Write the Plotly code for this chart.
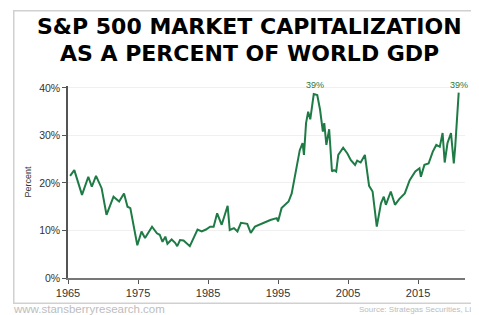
import plotly.graph_objects as go

years = [1965.3, 1965.9, 1967.0, 1967.9, 1968.4, 1969.0, 1969.8, 1970.5, 1971.5, 1972.3,
         1973.0, 1973.5, 1973.9, 1974.9, 1975.5, 1976.0, 1977.0, 1977.7, 1978.1, 1978.5,
         1978.9, 1979.2, 1979.8, 1980.3, 1980.6, 1981.0, 1981.5, 1982.4, 1983.5, 1984.1,
         1984.7, 1985.3, 1985.8, 1986.3, 1986.95, 1987.8, 1988.1, 1988.7, 1989.2, 1989.7,
         1990.6, 1991.1, 1991.7, 1993.9, 1994.8, 1995.0, 1995.5, 1996.0, 1996.5, 1996.95,
         1997.4, 1997.7, 1998.1, 1998.5, 1998.7, 1999.0, 1999.3, 1999.6, 1999.8, 2000.1,
         2000.6, 2001.0, 2001.4, 2001.6, 2001.9, 2002.3, 2002.7, 2003.0, 2003.3, 2003.6,
         2004.3, 2004.9, 2005.4, 2006.0, 2006.3, 2006.8, 2007.4, 2008.0, 2008.5, 2009.1,
         2009.7, 2010.1, 2010.4, 2011.1, 2011.7, 2012.3, 2013.1, 2013.8, 2014.6, 2015.2,
         2015.4, 2015.9, 2016.5, 2017.1, 2017.6, 2018.1, 2018.5, 2018.8, 2019.2, 2019.7,
         2020.1, 2020.3, 2020.8]
values = [21.5, 22.7, 17.5, 21.3, 19.2, 21.5, 18.9, 13.3, 17.1, 16.1,
          17.8, 15.0, 14.7, 6.9, 9.8, 8.4, 10.8, 9.4, 9.1, 7.6,
          8.7, 7.2, 8.1, 7.4, 6.7, 8.0, 7.9, 6.7, 10.2, 9.8,
          10.2, 10.8, 10.8, 13.6, 11.2, 15.2, 10.1, 10.5, 9.8, 11.6,
          11.4, 9.5, 10.8, 12.2, 12.6, 11.9, 14.7, 15.4, 16.1, 17.8,
          21.3, 23.4, 26.9, 28.4, 25.9, 32.6, 35.0, 33.4, 35.4, 38.7,
          38.5, 35.4, 30.8, 32.6, 28.0, 31.3, 22.4, 22.7, 22.4, 25.9,
          27.4, 26.2, 24.8, 23.8, 24.7, 24.3, 25.9, 19.4, 18.2, 10.8,
          15.7, 17.1, 15.4, 18.2, 15.4, 16.6, 17.8, 20.6, 22.4, 23.1,
          21.3, 23.8, 24.1, 26.6, 28.0, 27.6, 30.5, 24.3, 28.4, 30.5,
          24.1, 27.6, 39.0]

tick_years = [1965, 1975, 1985, 1995, 2005, 2015]
tick_pcts = [0, 10, 20, 30, 40]
tick_pct_labels = ["0%", "10%", "20%", "30%", "40%"]
peak_years = [2000.3, 2020.8]
peak_labels = ["39%", "39%"]
title_lines = ["S&P 500 MARKET CAPITALIZATION", "AS A PERCENT OF WORLD GDP"]

GREEN = "#1e7b45"
OFF = 8                      # page body margin offset
W, H = 479 - OFF, 315 - OFF
L, R, T, B = 68 - OFF, 479 - 465, 86 - OFF, 315 - 278
pw, ph = W - L - R, H - T - B

def px(x):                   # page pixel -> paper x
    return (x - OFF - L) / pw

def py(y):                   # page pixel -> paper y
    return (H - B - (y - OFF)) / ph

fig = go.Figure()
fig.add_trace(go.Scatter(x=years, y=values, mode="lines",
                         line=dict(color=GREEN, width=2), hoverinfo="skip"))

for xv, lab in zip(peak_years, peak_labels):
    fig.add_annotation(x=xv, y=39.4, text=lab, showarrow=False, yanchor="bottom",
                       xanchor="center", borderpad=0,
                       font=dict(family="Liberation Sans", size=9, color=GREEN))

# light frame around the chart (an empty bordered annotation box)
fig.add_annotation(xref="paper", yref="paper", x=px(245.5), y=py(157),
                   xanchor="center", yanchor="middle", text=" ", showarrow=False,
                   width=462, height=291, borderpad=0, borderwidth=1.5,
                   bordercolor="#d0d0d0", bgcolor="rgba(0,0,0,0)")

for yy, line in zip([27, 53], title_lines):
    fig.add_annotation(xref="paper", yref="paper", x=px(249), y=py(yy), yanchor="middle",
                       text="<b>" + line + "</b>", showarrow=False, borderpad=0,
                       font=dict(family="DejaVu Sans", size=22, color="#000000"))

fig.add_annotation(xref="paper", yref="paper", x=px(12), y=py(309), xanchor="left",
                   yanchor="middle", text="www.stansberryresearch.com", showarrow=False,
                   borderpad=0,
                   font=dict(family="Liberation Sans", size=11.5, color="#bdbdbd"))
fig.add_annotation(xref="paper", yref="paper", x=px(481), y=py(309), xanchor="right",
                   yanchor="middle", text="Source: Strategas Securities, LLC", showarrow=False,
                   borderpad=0,
                   font=dict(family="Liberation Sans", size=8, color="#bdbdbd"))

fig.update_layout(
    width=W, height=H, margin=dict(l=L, r=R, t=T, b=B),
    paper_bgcolor="white", plot_bgcolor="white", showlegend=False,
    xaxis=dict(range=[1965, 2021.7], tickvals=tick_years, ticks="outside", ticklen=4,
               tickcolor="#555555", showline=True, linecolor="#777777", linewidth=1.5,
               showgrid=False, zeroline=False,
               tickfont=dict(family="Liberation Sans", size=11, color="#333333")),
    yaxis=dict(range=[0, 40.4], tickvals=tick_pcts, ticktext=tick_pct_labels,
               ticks="outside", ticklen=4, tickcolor="#555555",
               showline=True, linecolor="#555555", linewidth=1.5,
               showgrid=True, gridcolor="#f0f0f0", zeroline=False,
               title=dict(text="Percent", standoff=6,
                          font=dict(family="Liberation Sans", size=9, color="#333333")),
               tickfont=dict(family="Liberation Sans", size=10.5, color="#333333")),
)

fig.write_html("out.html")
